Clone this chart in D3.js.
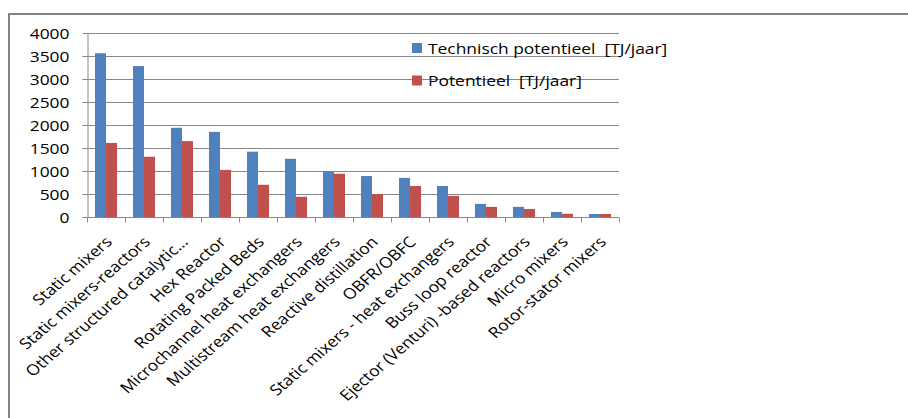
<!DOCTYPE html>
<html>
<head>
<meta charset="utf-8">
<script src="https://cdn.jsdelivr.net/npm/d3@7"></script>
<style>
  html, body { margin: 0; padding: 0; background: #fff; }
  svg { display: block; }
  text { font-family: "Open Sans", "Noto Sans", sans-serif; fill: #000; white-space: pre; }
</style>
</head>
<body>
<svg id="chart" width="908" height="418"></svg>
<script>
// Process-intensification technologies and their energy potential
const categories = [
  "Static mixers",
  "Static mixers-reactors",
  "Other structured catalytic...",
  "Hex Reactor",
  "Rotating Packed Beds",
  "Microchannel heat exchangers",
  "Multistream heat exchangers",
  "Reactive distillation",
  "OBFR/OBFC",
  "Static mixers - heat exchangers",
  "Buss loop reactor",
  "Ejector (Venturi) -based reactors",
  "Micro mixers",
  "Rotor-stator mixers"
];
const technischPotentieel = [3560, 3280, 1940, 1850, 1420, 1265, 995, 890, 850, 675, 285, 220, 110, 65];
const potentieel = [1610, 1310, 1650, 1025, 700, 440, 940, 500, 675, 460, 220, 175, 70, 65];
const seriesNames = ["Technisch potentieel  [TJ/jaar]", "Potentieel  [TJ/jaar]"];
const yTicks = [0, 500, 1000, 1500, 2000, 2500, 3000, 3500, 4000];

const colors = ["#4F81BD", "#C0504D"];
const gridColor = "#878787";
const SX = 1.16;         // horizontal text stretch
const FS = 15;           // font size

const svg = d3.select("#chart");

// outer frame (top and left edges)
svg.append("path")
  .attr("d", "M9,418 V14 H908")
  .attr("fill", "none")
  .attr("stroke", "#848484")
  .attr("stroke-width", 2);

const plot = { left: 87, right: 619, top: 33, bottom: 217 };

const x = d3.scaleBand()
  .domain(categories)
  .range([plot.left, plot.right])
  .paddingInner(0.42)
  .paddingOuter(0.21);

const xs = d3.scaleBand()
  .domain(seriesNames)
  .range([0, x.bandwidth()]);

const y = d3.scaleLinear()
  .domain([0, 4000])
  .range([plot.bottom, plot.top]);

// horizontal gridlines
svg.append("g")
  .selectAll("line")
  .data(yTicks.filter(d => d > 0))
  .join("line")
  .attr("x1", plot.left)
  .attr("x2", plot.right)
  .attr("y1", d => Math.round(y(d)) + 0.5)
  .attr("y2", d => Math.round(y(d)) + 0.5)
  .attr("stroke", gridColor)
  .attr("stroke-width", 1);

// bars
const rows = categories.map((c, i) => ({ cat: c, values: [technischPotentieel[i], potentieel[i]] }));
const groups = svg.append("g")
  .selectAll("g")
  .data(rows)
  .join("g")
  .attr("transform", d => `translate(${x(d.cat)},0)`);

groups.selectAll("rect")
  .data(d => d.values.map((v, k) => ({ v, k })))
  .join("rect")
  .attr("x", d => xs(seriesNames[d.k]))
  .attr("width", xs.bandwidth())
  .attr("y", d => y(d.v))
  .attr("height", d => y(0) - y(d.v))
  .attr("fill", d => colors[d.k]);

// y axis
const yAxis = svg.append("g")
  .attr("transform", `translate(${plot.left + 0.5},0)`)
  .call(d3.axisLeft(y).tickValues(yTicks).tickSize(5).tickSizeOuter(0).tickFormat(d3.format("d")));
yAxis.select(".domain").attr("stroke", gridColor);
yAxis.selectAll(".tick line").attr("stroke", gridColor);
yAxis.selectAll(".tick text")
  .attr("x", null).attr("dy", null)
  .attr("transform", "translate(-18,5.5) scale(" + SX + ",1)")
  .attr("font-size", FS)
  .attr("font-family", null)
  .attr("fill", "#000");

// x axis: line plus tick marks at category boundaries
const xAxisG = svg.append("g")
  .attr("transform", `translate(0,${plot.bottom + 0.5})`);
xAxisG.append("line")
  .attr("x1", plot.left).attr("x2", plot.right)
  .attr("stroke", gridColor);
const step = x.step();
xAxisG.selectAll(".xt")
  .data(d3.range(categories.length + 1))
  .join("line")
  .attr("class", "xt")
  .attr("x1", i => Math.round(plot.left + i * step) + 0.5)
  .attr("x2", i => Math.round(plot.left + i * step) + 0.5)
  .attr("y1", 0).attr("y2", 5)
  .attr("stroke", gridColor);

// rotated category labels
svg.append("g")
  .selectAll("text")
  .data(categories)
  .join("text")
  .attr("text-anchor", "end")
  .attr("font-size", FS)
  .attr("transform", d => `translate(${x(d) + x.bandwidth() / 2 + 7},${plot.bottom + 26}) scale(${SX},1) rotate(-45)`)
  .text(d => d);

// legend
const legend = svg.append("g");
const legendY = [43, 75.5];
seriesNames.forEach((name, k) => {
  legend.append("rect")
    .attr("x", 412).attr("y", legendY[k])
    .attr("width", 10).attr("height", 10)
    .attr("fill", colors[k]);
  legend.append("text")
    .attr("transform", `translate(428,${legendY[k] + 10.5}) scale(${SX},1)`)
    .attr("font-size", FS)
    .text(name);
});
</script>
</body>
</html>
